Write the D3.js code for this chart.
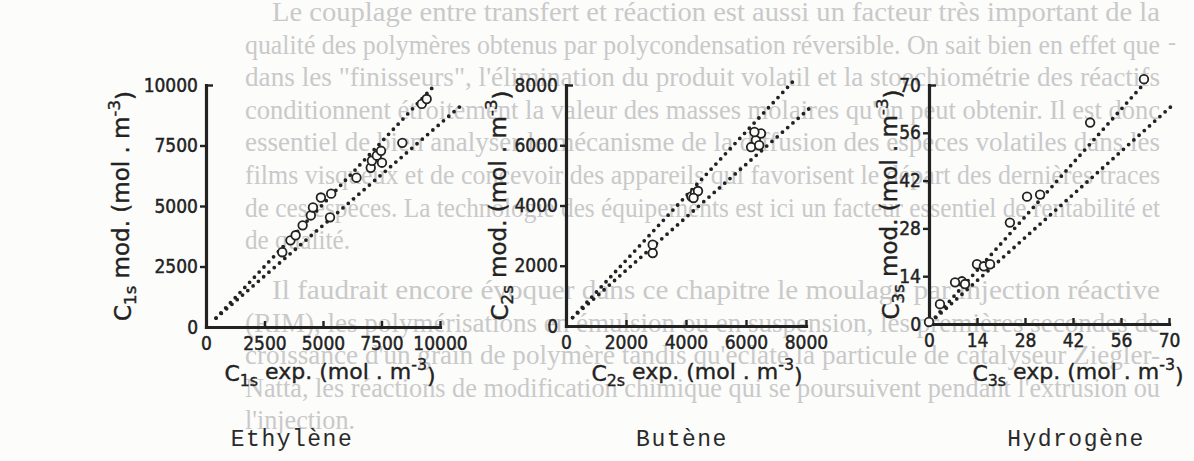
<!DOCTYPE html>
<html>
<head>
<meta charset="utf-8">
<script src="https://cdn.jsdelivr.net/npm/d3@7"></script>
<style>
  html, body { margin: 0; padding: 0; background: #fcfcfb; }
  svg { display: block; }
  .ghost { font-family: "Liberation Serif", "DejaVu Serif", serif; font-size: 24px; fill: #c9c9c9; }
  .lbl { font-family: "DejaVu Sans Condensed", "DejaVu Sans", sans-serif; fill: #222; stroke: #222; stroke-width: 0.45px; }
  .ttl { font-family: "DejaVu Sans", sans-serif; fill: #222; stroke: #222; stroke-width: 0.4px; }
  .cap { font-family: "Liberation Mono", "DejaVu Sans Mono", monospace; font-size: 23px; letter-spacing: 1.5px; fill: #2a2a2a; }
</style>
</head>
<body>
<div id="chart"></div>
<script>
// faint text showing through the scanned page
const ghostBlock1 = [
  'Le couplage entre transfert  et réaction est aussi un facteur très important de la',
  'qualité des polymères obtenus par polycondensation réversible. On sait bien en effet que',
  'dans les "finisseurs", l\'élimination du produit volatil et la stoechiométrie des réactifs',
  'conditionnent étroitement la valeur des masses molaires qu\'on peut obtenir. Il est donc',
  'essentiel de bien analyser le mécanisme de la diffusion des espèces volatiles dans les',
  'films visqueux et de concevoir des appareils qui favorisent le départ des dernières traces',
  'de ces espèces. La technologie des équipements est ici un facteur essentiel de rentabilité et',
  'de qualité.'
];
const ghostBlock2 = [
  'Il faudrait encore évoquer dans ce chapitre le moulage par injection réactive',
  '(RIM), les polymérisations en émulsion ou en suspension, les premières secondes de',
  'croissance d\'un grain de polymère tandis qu\'éclate la particule de catalyseur Ziegler-',
  'Natta, les réactions de modification chimique qui se poursuivent pendant l\'extrusion ou',
  'l\'injection.'
];

// chart data
const chartNames = ['Ethylène', 'Butène', 'Hydrogène'];
const speciesSub = ['1s', '2s', '3s'];
const axisMax = [10000, 8000, 70];
const tickValues = [
  [0, 2500, 5000, 7500, 10000],
  [0, 2000, 4000, 6000, 8000],
  [0, 14, 28, 42, 56, 70]
];

const ethyleneUpper = [[430, 370], [9830, 10050]];
const ethyleneLower = [[430, 370], [10900, 9150]];
const ethylenePoints = [
  [3260, 3090], [3610, 3580], [3830, 3790], [4130, 4200], [4480, 4610],
  [4570, 4940], [4910, 5350], [5350, 5510], [6430, 6170], [7040, 6580],
  [7090, 6870], [7300, 7080], [7480, 7280], [7520, 6790], [8390, 7610],
  [9220, 9220], [9430, 9420], [5300, 4530]
];

const buteneUpper = [[220, 280], [7550, 8100]];
const buteneLower = [[220, 280], [8200, 7300]];
const butenePoints = [
  [2890, 2700], [2890, 2420], [4180, 4300], [4300, 4420], [4400, 4480],
  [4250, 4250], [6330, 6170], [6170, 5940], [6500, 6390], [6280, 6440],
  [6440, 6000]
];

const hydrogenUpper = [[0.5, 0.5], [63.6, 71.4]];
const hydrogenLower = [[0.5, 0.5], [70.5, 63.6]];
const hydrogenPoints = [
  [62.7, 71.7], [47, 59], [28.6, 37.3], [32.4, 37.9], [23.6, 29.7],
  [14, 17.5], [16, 16.9], [17.8, 17.5], [9.6, 12.5], [7.6, 12.2],
  [10.5, 11.7], [3.2, 5.8], [0, 0.6]
];

const lines = [[ethyleneUpper, ethyleneLower], [buteneUpper, buteneLower], [hydrogenUpper, hydrogenLower]];
const points = [ethylenePoints, butenePoints, hydrogenPoints];

const width = 1194;
const height = 461;
const ink = '#222';

// where each panel sits on the page
const frames = [
  { left: 206, right: 440, bottom: 327, top: 85, yTitleX: 131, xTitleX: 330, capX: 292 },
  { left: 566, right: 806, bottom: 326, top: 85, yTitleX: 508, xTitleX: 697, capX: 682 },
  { left: 929, right: 1169, bottom: 324, top: 85, yTitleX: 899, xTitleX: 1078, capX: 1076 }
];

const svg = d3.select('#chart')
  .append('svg')
  .attr('width', width)
  .attr('height', height);

// ghost text, glyphs stretched a little in height like the scan
function ghostLine(t, x0, y0, len) {
  const txt = ghost.append('text')
    .attr('transform', `translate(${x0},${y0}) scale(1,1.12)`)
    .text(t);
  txt.attr('textLength', len).attr('lengthAdjust', 'spacingAndGlyphs');
}
const ghost = svg.append('g').attr('class', 'ghost');
ghostBlock1.forEach((t, i) => {
  const last = i === ghostBlock1.length - 1;
  const x0 = i === 0 ? 272 : 245;
  ghostLine(t, x0, 21 + i * 32.6, last ? 105 : 1160 - x0);
});
ghostBlock2.forEach((t, i) => {
  const last = i === ghostBlock2.length - 1;
  const x0 = i === 0 ? 272 : 245;
  ghostLine(t, x0, 299 + i * 32.5, last ? 110 : 1160 - x0);
});
ghost.append('text').attr('x', 1168).attr('y', 50).text('-');

function titleText(g, sub, word) {
  g.append('tspan').text('C');
  g.append('tspan').attr('font-size', '0.72em').attr('dy', '0.3em').text(sub);
  g.append('tspan').attr('dy', '-0.3em').text(word + ' (mol . m');
  g.append('tspan').attr('font-size', '0.72em').attr('dy', '-0.55em').text('-3');
  g.append('tspan').attr('dy', '0.55em').text(')');
}

frames.forEach((f, k) => {
  const x = d3.scaleLinear().domain([0, axisMax[k]]).range([f.left, f.right]);
  const y = d3.scaleLinear().domain([0, axisMax[k]]).range([f.bottom, f.top]);
  const g = svg.append('g');

  // x axis, ticks pointing up
  const xAxis = g.append('g')
    .attr('transform', `translate(0,${f.bottom})`)
    .call(d3.axisBottom(x).tickValues(tickValues[k]).tickSize(-6).tickSizeOuter(0).tickPadding(10).tickFormat(d3.format('d')));
  // y axis, ticks outward, top one inward
  const yAxis = g.append('g')
    .attr('transform', `translate(${f.left},0)`)
    .call(d3.axisLeft(y).tickValues(tickValues[k]).tickSize(6).tickSizeOuter(0).tickPadding(2).tickFormat(d3.format('d')));
  yAxis.selectAll('.tick').filter(d => d === axisMax[k]).select('line').attr('x2', 7);
  yAxis.selectAll('.tick').filter(d => d === 0).select('line').remove();
  xAxis.selectAll('.tick').filter(d => d === 0).select('line').remove();

  [xAxis, yAxis].forEach(a => {
    a.select('.domain').attr('stroke', ink).attr('stroke-width', 3.2).attr('stroke-linecap', 'square');
    a.selectAll('.tick line').attr('stroke', ink).attr('stroke-width', 2.4);
    a.selectAll('.tick text')
      .attr('class', 'lbl')
      .attr('font-size', 19)
      .attr('font-family', null)
      .attr('fill', ink);
  });

  // dotted lines
  const line = d3.line().x(d => x(d[0])).y(d => y(d[1]));
  lines[k].forEach(l => {
    g.append('path')
      .attr('d', line(l))
      .attr('fill', 'none')
      .attr('stroke', ink)
      .attr('stroke-width', 3.8)
      .attr('stroke-linecap', 'round')
      .attr('stroke-dasharray', '0 7');
  });

  // open circles
  g.selectAll('circle')
    .data(points[k])
    .enter()
    .append('circle')
    .attr('cx', d => x(d[0]))
    .attr('cy', d => y(d[1]))
    .attr('r', 4.3)
    .attr('fill', '#fcfcfb')
    .attr('stroke', ink)
    .attr('stroke-width', 1.8);

  // axis titles
  const cy = (f.top + f.bottom) / 2;
  const yt = g.append('text')
    .attr('class', 'ttl')
    .attr('font-size', 23)
    .attr('text-anchor', 'middle')
    .attr('transform', `translate(${f.yTitleX},${cy}) rotate(-90)`);
  titleText(yt, speciesSub[k], ' mod.');

  const xt = g.append('text')
    .attr('class', 'ttl')
    .attr('font-size', 22)
    .attr('text-anchor', 'middle')
    .attr('x', f.xTitleX)
    .attr('y', 381);
  titleText(xt, speciesSub[k], k === 2 ? '  exp.' : ' exp.');

  svg.append('text')
    .attr('class', 'cap')
    .attr('text-anchor', 'middle')
    .attr('x', f.capX)
    .attr('y', 446)
    .text(chartNames[k]);
});
</script>
</body>
</html>
